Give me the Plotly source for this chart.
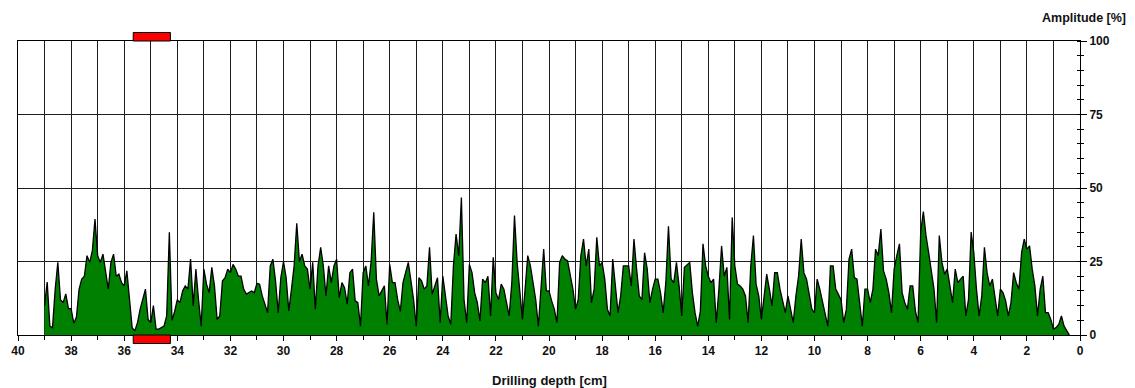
import numpy as np
import plotly.graph_objects as go

# ---- data ----
depth_start = 39.0   # cm, first sample
depth_step = 0.1     # cm between samples (decreasing depth)

amplitude = [
    10, 18, 3, 2.5, 15.5, 24.7, 12, 11, 14, 9,            # 39.0 - 38.1
    9, 4, 6, 15.5, 19, 20, 27, 24.7, 28.6, 39.4,          # 38.0 - 37.1
    27, 24.7, 27.5, 20.7, 15.6, 24.7, 27.5, 20, 20.7, 17.8,  # 37.0 - 36.1
    16.7, 21.8, 11, 2.5, 1.4, 4.2, 8.8, 12, 15.6, 5.3,    # 36.0 - 35.1
    4.2, 10, 2, 2, 2.5, 3, 6.5, 34.9, 5, 8,               # 35.0 - 34.1
    12, 11, 15, 16.7, 15.6, 25.8, 9.9, 22.4, 12, 3,       # 34.0 - 33.1
    22.4, 17.3, 14.4, 23, 16.7, 5.3, 6.5, 18.4, 19.5, 22.4,  # 33.0 - 32.1
    21.2, 24, 22.4, 20, 20, 15.6, 13.9, 14.4, 15, 14.4,   # 32.0 - 31.1
    17.6, 17.3, 13.3, 10.5, 7.6, 23.5, 25.8, 18.4, 7.6, 19.5,  # 31.0 - 30.1
    25, 19.5, 8.2, 15.6, 23.5, 38, 25, 27.5, 23.5, 22.4,  # 30.0 - 29.1
    15.6, 24.7, 8.8, 23.5, 29.8, 23.5, 13.3, 23.5, 17.8, 23.5,  # 29.0 - 28.1
    25.8, 12.7, 17.8, 16.1, 10.5, 21.2, 22.4, 11.6, 11, 3,  # 28.0 - 27.1
    21.2, 23.5, 16.7, 25, 41.7, 19, 13.3, 15, 16.7, 3.6,  # 27.0 - 26.1
    24, 17.8, 17.8, 12, 8, 17.8, 21.2, 24.7, 18.4, 12,    # 26.0 - 25.1
    3, 19.5, 18.4, 15.6, 16.7, 29.8, 13.9, 16.7, 19.5, 4.2,  # 25.0 - 24.1
    20, 13.3, 6.5, 3.6, 23.5, 34.3, 27, 46.8, 12, 4.2,    # 24.0 - 23.1
    24, 21.2, 14.4, 11, 4.8, 19, 17.8, 20, 6.5, 26.4,     # 23.0 - 22.1
    14.4, 12, 17.3, 15.6, 11, 6.5, 17.8, 40.6, 24.7, 14.4,  # 22.0 - 21.1
    5.3, 15.6, 27, 23.5, 17.8, 12, 3, 16.7, 29.2, 15,     # 21.0 - 20.1
    15, 11.6, 8.8, 4.2, 24.7, 27, 25.8, 25.2, 20, 15.6,   # 20.0 - 19.1
    8.8, 12, 27, 32.6, 23.5, 29.2, 11, 15.6, 33.2, 23.5,  # 19.0 - 18.1
    24.7, 19, 8.8, 6.5, 25.8, 16.7, 7.6, 13.3, 23.5, 23.5,  # 18.0 - 17.1
    23.5, 16.7, 32.6, 22.4, 13.3, 12, 28, 22.4, 11, 15.6,  # 17.0 - 16.1
    19, 19, 14.4, 7.6, 17.8, 37, 19, 17.8, 24.7, 16.7,    # 16.0 - 15.1
    6.5, 23, 24, 24.7, 14.4, 7.6, 3, 8, 31, 23.5,         # 15.0 - 14.1
    20, 17.8, 19, 4.2, 15.6, 30.3, 20, 23, 5.3, 40,       # 14.0 - 13.1
    23.5, 17.3, 16.7, 15.6, 13.3, 4.2, 23.5, 33.8, 17.3, 13.3,  # 13.0 - 12.1
    5.3, 13.3, 20.7, 15.6, 9.9, 21.2, 21.2, 15.6, 12, 7.6,  # 12.0 - 11.1
    13.3, 8.8, 4.2, 13.3, 20, 32.6, 21.2, 19, 14.4, 8.8,  # 11.0 - 10.1
    7.6, 19, 15.6, 11, 6.5, 3, 23.5, 23.5, 15.6, 13.9,    # 10.0 - 9.1
    12, 4.2, 8.8, 25.8, 29.2, 19.5, 19, 11, 3, 15.6,      # 9.0 - 8.1
    15.6, 11, 15.6, 29.2, 27, 36, 21.8, 19, 14.4, 7.6,    # 8.0 - 7.1
    22.4, 27, 31, 14.4, 11, 8.8, 16.7, 16.7, 8.2, 4.2,    # 7.0 - 6.1
    35, 42, 33.8, 28, 22.4, 15.6, 4.2, 33.8, 24.7, 20.7,  # 6.0 - 5.1
    22.4, 16.7, 11, 22.4, 17.8, 19, 20, 6.5, 12, 35,      # 5.0 - 4.1
    28, 15.6, 6.5, 13.3, 29.8, 21.2, 16.7, 19, 12, 6.5,   # 4.0 - 3.1
    15.6, 14.4, 11.6, 6.5, 11, 21.2, 17.8, 15.6, 28, 32.6,  # 3.0 - 2.1
    29.2, 30.3, 22.4, 16.7, 6.5, 15.6, 20, 7.6, 7.6, 5.3,  # 2.0 - 1.1
    2, 2.5, 3.6, 6.5, 3, 1.4, 0,                          # 1.0 - 0.4
]
depth = np.round(depth_start - depth_step * np.arange(len(amplitude)), 2)

x_tick_vals = list(range(0, 41, 2))
y_tick_vals = [0, 25, 50, 75, 100]
marked_from, marked_to = 35.66, 34.26   # red marked depth interval (cm)

# ---- figure ----
W, H = 1135, 388
L, R, T, B = 18, 55, 41, 53
plot_h = H - T - B
plot_w = W - L - R

bold = dict(family="Liberation Sans, Arial, sans-serif", size=12, color="#111111", weight="bold")
grid_col = "#1e1e1e"

fig = go.Figure()
fig.add_trace(go.Scatter(
    x=depth, y=amplitude, mode="lines",
    line=dict(color="black", width=1.3),
    fill="tozeroy", fillcolor="#008000",
    hoverinfo="skip", showlegend=False,
))
# helper trace so the inside-tick overlay axis is rendered
fig.add_trace(go.Scatter(x=[None], y=[None], yaxis="y2", showlegend=False, hoverinfo="skip"))

fig.update_layout(
    width=W, height=H,
    margin=dict(l=L, r=R, t=T, b=B, pad=0),
    paper_bgcolor="white", plot_bgcolor="white",
    xaxis=dict(
        range=[40, 0], autorange=False,
        tickvals=x_tick_vals, ticks="outside", ticklen=5, tickcolor="black", tickwidth=1,
        showgrid=True, gridcolor=grid_col, gridwidth=1,
        minor=dict(dtick=1, showgrid=True, gridcolor=grid_col, gridwidth=1,
                   ticks="outside", ticklen=4, tickcolor="black"),
        showline=True, linecolor="black", linewidth=1, mirror=True,
        zeroline=False, tickfont=bold,
    ),
    yaxis=dict(
        range=[0, 100], autorange=False, side="right",
        tickvals=y_tick_vals, ticks="outside", ticklen=6, tickcolor="black",
        showgrid=True, gridcolor=grid_col, gridwidth=1,
        minor=dict(dtick=5, ticks="outside", ticklen=3, tickcolor="black", showgrid=False),
        showline=True, linecolor="black", linewidth=1, mirror=True,
        zeroline=False, tickfont=bold,
    ),
    yaxis2=dict(
        range=[0, 100], autorange=False, overlaying="y", side="right", anchor="x",
        showticklabels=False, showgrid=False, zeroline=False, showline=False,
        tickvals=[], minor=dict(dtick=5, ticks="inside", ticklen=3, tickcolor="black"),
    ),
)

# red marker boxes above and below the plot
box_h = 8.5 / plot_h
for y0, y1 in [(1.0, 1.0 + box_h), (-box_h, 0.0)]:
    fig.add_shape(type="rect", xref="x", yref="paper",
                  x0=marked_from, x1=marked_to, y0=y0, y1=y1,
                  fillcolor="#ff0000", line=dict(color="black", width=1), layer="above")

fig.add_annotation(text="Amplitude [%]", xref="paper", yref="paper",
                   x=(1128 - L) / plot_w, y=(H - B - 18) / plot_h,
                   xanchor="right", yanchor="middle", showarrow=False,
                   font=dict(family="Liberation Sans, Arial, sans-serif", size=12.5,
                             color="#111111", weight="bold"))
fig.add_annotation(text="Drilling depth [cm]", xref="paper", yref="paper",
                   x=0.5, y=-(380 - (H - B)) / plot_h,
                   xanchor="center", yanchor="middle", showarrow=False,
                   font=dict(family="Liberation Sans, Arial, sans-serif", size=13,
                             color="#111111", weight="bold"))

fig.write_html(
    "out.html",
    config={"displayModeBar": False},
    post_script="document.body.style.margin='0';document.body.style.overflow='hidden';",
)
